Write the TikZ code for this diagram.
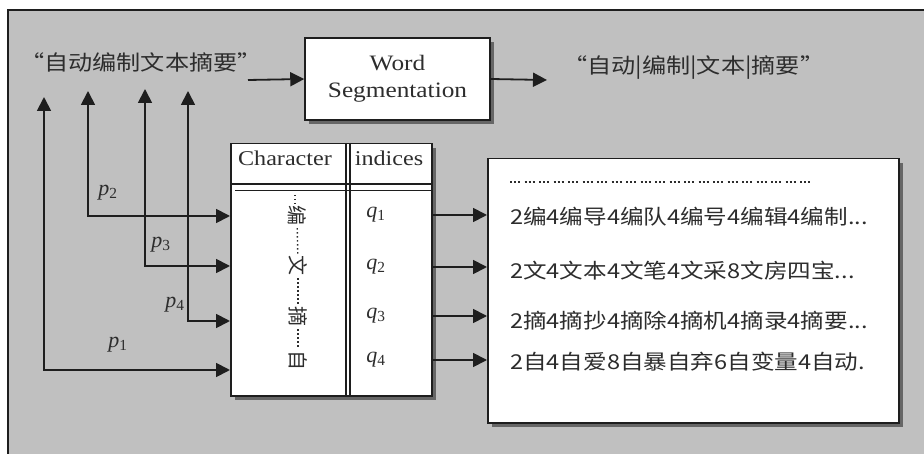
\documentclass[tikz,border=0pt]{standalone}
\usepackage{fontspec}
\setmainfont{Liberation Serif}
\newfontfamily\cjk{Noto Sans CJK SC}
\usetikzlibrary{arrows.meta,shadows}
\definecolor{panel}{RGB}{192,192,192}
\definecolor{ink}{RGB}{45,45,45}
\definecolor{edge}{RGB}{30,30,30}
\newcommand{\hstretch}[1]{\scalebox{1.15}[1]{#1}}
\newcommand{\idx}[2]{\textit{#1}\textsubscript{#2}}
\begin{document}
\begin{tikzpicture}[x=1pt,y=-1pt,
  tip/.tip={Triangle[length=14pt,width=14pt]},
  arr/.style={-tip, line width=1.8pt, draw=edge},
  dbl/.style={tip-tip, line width=1.8pt, draw=edge},
  box/.style={draw=edge, line width=1.5pt, fill=white, inner sep=0pt,
    drop shadow={shadow xshift=4pt, shadow yshift=-4pt, fill=black!60, opacity=1}},
  txt/.style={text=ink, inner sep=0pt},
  latin/.style={txt, font=\fontsize{21}{27}\selectfont},
  zh/.style={txt, font=\cjk\fontsize{21}{24}\selectfont},
  zhrow/.style={txt, anchor=west, font=\cjk\fontsize{20.5}{22}\selectfont},
  sym/.style={txt, font=\fontsize{22}{22}\selectfont},
  chr/.style={txt, rotate=-90, font=\cjk\fontsize{20}{20}\selectfont},
  dotline/.style={draw=ink, line width=1.4pt, dash pattern=on 1.4pt off 2.6pt}
]
\useasboundingbox (0,0) rectangle (924,454);
\clip (0,0) rectangle (924,454);
% panel
\fill[panel] (8,10) rectangle (930,460);
\draw[edge, line width=1.5pt] (930,10) -- (8,10) -- (8,460);

% top row
\node[zh, anchor=west] (src) at (20,62) {\hstretch{“自动编制文本摘要”}};
\node[box, minimum width=185pt, minimum height=82pt, align=center,
      font=\fontsize{22}{27}\selectfont, text=ink] (ws) at (397.5,79)
      {\hstretch{Word}\\\hstretch{Segmentation}};
\node[zh, anchor=west] (dst) at (563,68) {\hstretch{“自动|编制|文本|摘要”}};
\coordinate (a0) at (248,80);
\coordinate (a1) at (547,80);
\draw[arr] (a0) -- (ws.west);
\draw[arr] (ws.east) -- (a1);

% table
\node[box, minimum width=201pt, minimum height=252pt, anchor=north west] (tab) at (230,143) {};
\draw[edge, line width=1.3pt] (230,184) -- (431,184);
\draw[edge, line width=1pt] (235,191) -- (431,191);
\draw[edge, line width=1.2pt] (346,143) -- (346,395);
\draw[edge, line width=1.2pt] (350,143) -- (350,395);
\node[latin] (hc) at (285,158) {\hstretch{Character}};
\node[latin] (hi) at (389,158) {\hstretch{indices}};

\node[chr] (c1) at (297,216) {编};
\node[chr] (c2) at (298,266) {文};
\node[chr] (c3) at (298,317) {摘};
\node[chr] (c4) at (298,361) {自};
\draw[dotline] (295,195) -- (295,206);
\draw[dotline, shorten <=2pt, shorten >=2pt] (c1) -- (c2);
\draw[dotline, shorten <=2pt, shorten >=2pt] (c2) -- (c3);
\draw[dotline, shorten <=2pt, shorten >=2pt] (c3) -- (c4);

\node[sym] (q1) at (376,215) {\idx{q}{1}};
\node[sym] (q2) at (376,267) {\idx{q}{2}};
\node[sym] (q3) at (376,316) {\idx{q}{3}};
\node[sym] (q4) at (376,360) {\idx{q}{4}};

% right box
\node[box, minimum width=411pt, minimum height=264pt, anchor=north west] (rb) at (487,158) {};
\draw[draw=ink, line width=2pt, dash pattern=on 2pt off 2pt on 2pt off 2pt on 2pt off 4.5pt] (510,182) -- (810,182);
\node[zhrow] (l1) at (510,217) {\hstretch{2编4编导4编队4编号4编辑4编制...}};
\node[zhrow] (l2) at (510,271) {\hstretch{2文4文本4文笔4文采8文房四宝...}};
\node[zhrow] (l3) at (510,321) {\hstretch{2摘4摘抄4摘除4摘机4摘录4摘要...}};
\node[zhrow] (l4) at (510,362) {\hstretch{2自4自爱8自暴自弃6自变量4自动.}};

\draw[arr] (q1 -| tab.east) -- (q1 -| rb.west);
\draw[arr] (q2 -| tab.east) -- (q2 -| rb.west);
\draw[arr] (q3 -| tab.east) -- (q3 -| rb.west);
\draw[arr] (q4 -| tab.east) -- (q4 -| rb.west);

% left connectors
\coordinate (u1) at (44,97);
\coordinate (u2) at (88,91);
\coordinate (u3) at (145,89);
\coordinate (u4) at (188,91);
\coordinate (t1) at (230,370);
\coordinate (t2) at (230,216);
\coordinate (t3) at (230,266);
\coordinate (t4) at (230,321);
\draw[dbl] (u1) |- (t1);
\draw[dbl] (u2) |- (t2);
\draw[dbl] (u3) |- (t3);
\draw[dbl] (u4) |- (t4);
\node[sym] (p1) at (118,345) {\idx{p}{1}};
\node[sym] (p2) at (108,193) {\idx{p}{2}};
\node[sym] (p3) at (161,245) {\idx{p}{3}};
\node[sym] (p4) at (175,305) {\idx{p}{4}};
\end{tikzpicture}
\end{document}
